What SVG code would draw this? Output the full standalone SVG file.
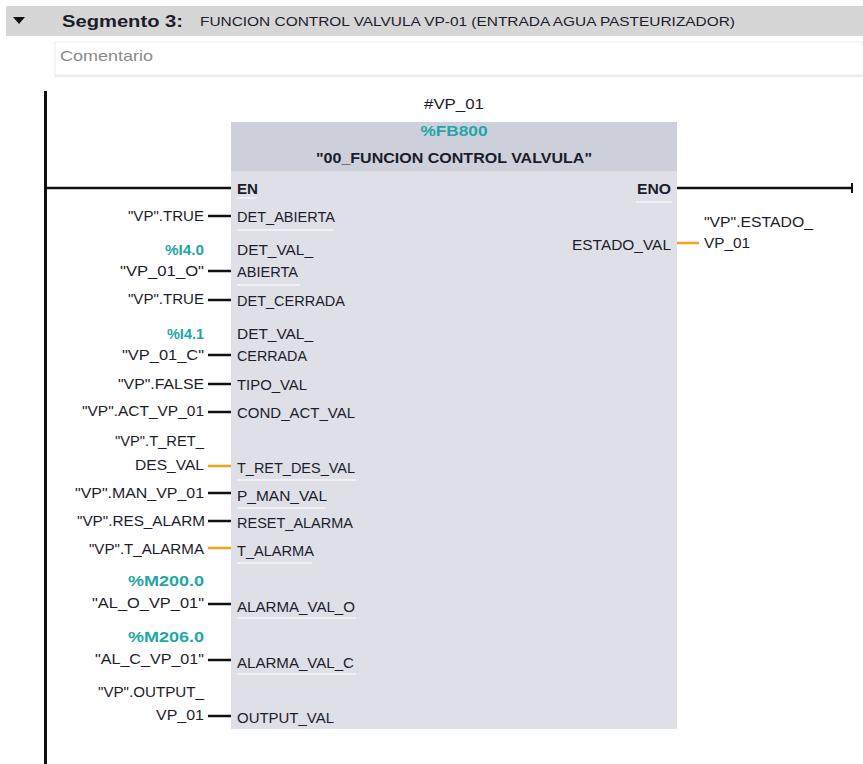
<svg xmlns="http://www.w3.org/2000/svg" width="863" height="764" viewBox="0 0 863 764">
  <style>
    text { font-family: "Liberation Sans", "DejaVu Sans", sans-serif; fill: #1c1c2c; }
    .pin { font-size: 15px; }
    .opnd { font-size: 15px; text-anchor: end; }
    .addr { font-size: 15px; text-anchor: end; fill: #1fa7a7; font-weight: bold; }
    .wire { stroke: #111; stroke-width: 2.5; fill: none; }
    .wire-o { stroke: #f5a31a; stroke-width: 2.5; fill: none; }
    .uline { stroke: #f4f4f8; stroke-width: 1.5; }
  </style>

  <rect width="863" height="764" fill="#ffffff"/>

  <!-- network header -->
  <g id="header">
    <rect x="6" y="6" width="857" height="30" fill="#d6d6d6"/>
    <polygon points="13,17 25,17 19,24" fill="#111"/>
    <text x="62" y="27" font-size="17" font-weight="bold" textLength="121" lengthAdjust="spacingAndGlyphs">Segmento 3:</text>
    <text x="200" y="26" font-size="13.5" textLength="535" lengthAdjust="spacingAndGlyphs">FUNCION CONTROL VALVULA VP-01 (ENTRADA AGUA PASTEURIZADOR)</text>
  </g>

  <g id="comment">
    <rect x="55" y="42" width="808" height="33" fill="#ffffff" stroke="#ececec"/>
    <line x1="55" y1="76" x2="863" y2="76" stroke="#e4e4f4" stroke-width="1.5"/>
    <text x="60" y="61" font-size="15" textLength="93" lengthAdjust="spacingAndGlyphs" style="fill:#8a8a8a">Comentario</text>
  </g>

  <!-- left power rail -->
  <g id="rail">
    <rect x="44" y="91" width="3" height="673" fill="#111"/>
  </g>

  <!-- function block -->
  <g id="fb800">
    <rect x="231" y="122" width="446" height="607" fill="#dfdfe8"/>
    <rect x="231" y="122" width="446" height="49" fill="#cdcfda"/>
    <text x="454" y="109" font-size="15" text-anchor="middle" textLength="60" lengthAdjust="spacingAndGlyphs">#VP_01</text>
    <text x="454" y="136" font-size="15" font-weight="bold" text-anchor="middle" textLength="67" lengthAdjust="spacingAndGlyphs" style="fill:#1fa7a7">%FB800</text>
    <text x="454" y="163" font-size="15" font-weight="bold" text-anchor="middle" textLength="276" lengthAdjust="spacingAndGlyphs">"00_FUNCION CONTROL VALVULA"</text>

    <text class="pin" x="237" y="194" font-weight="bold" textLength="21" lengthAdjust="spacingAndGlyphs">EN</text>
    <text class="pin" x="671" y="194" font-weight="bold" text-anchor="end" textLength="34" lengthAdjust="spacingAndGlyphs">ENO</text>
    <text class="pin" x="237" y="222" textLength="98" lengthAdjust="spacingAndGlyphs">DET_ABIERTA</text>
    <text class="pin" x="237" y="255" textLength="76" lengthAdjust="spacingAndGlyphs">DET_VAL_</text>
    <text class="pin" x="237" y="277" textLength="61" lengthAdjust="spacingAndGlyphs">ABIERTA</text>
    <text class="pin" x="237" y="306" textLength="108" lengthAdjust="spacingAndGlyphs">DET_CERRADA</text>
    <text class="pin" x="237" y="339" textLength="76" lengthAdjust="spacingAndGlyphs">DET_VAL_</text>
    <text class="pin" x="237" y="361" textLength="70" lengthAdjust="spacingAndGlyphs">CERRADA</text>
    <text class="pin" x="237" y="390" textLength="70" lengthAdjust="spacingAndGlyphs">TIPO_VAL</text>
    <text class="pin" x="237" y="418" textLength="118" lengthAdjust="spacingAndGlyphs">COND_ACT_VAL</text>
    <text class="pin" x="237" y="473" textLength="118" lengthAdjust="spacingAndGlyphs">T_RET_DES_VAL</text>
    <text class="pin" x="237" y="501" textLength="90" lengthAdjust="spacingAndGlyphs">P_MAN_VAL</text>
    <text class="pin" x="237" y="528" textLength="116" lengthAdjust="spacingAndGlyphs">RESET_ALARMA</text>
    <text class="pin" x="237" y="556" textLength="77" lengthAdjust="spacingAndGlyphs">T_ALARMA</text>
    <text class="pin" x="237" y="612" textLength="118" lengthAdjust="spacingAndGlyphs">ALARMA_VAL_O</text>
    <text class="pin" x="237" y="668" textLength="117" lengthAdjust="spacingAndGlyphs">ALARMA_VAL_C</text>
    <text class="pin" x="237" y="723" textLength="97" lengthAdjust="spacingAndGlyphs">OUTPUT_VAL</text>
    <text class="pin" x="671" y="250" text-anchor="end" textLength="99" lengthAdjust="spacingAndGlyphs">ESTADO_VAL</text>

    <!-- pin separators -->
    <line class="uline" x1="237" y1="198" x2="256" y2="198"/>
    <line class="uline" x1="237" y1="230" x2="334" y2="230"/>
    <line class="uline" x1="237" y1="285" x2="300" y2="285"/>
    <line class="uline" x1="237" y1="480" x2="356" y2="480"/>
    <line class="uline" x1="237" y1="508" x2="326" y2="508"/>
    <line class="uline" x1="237" y1="563" x2="312" y2="563"/>
    <line class="uline" x1="237" y1="618" x2="356" y2="618"/>
    <line class="uline" x1="237" y1="674" x2="356" y2="674"/>
    <line class="uline" x1="636" y1="202" x2="672" y2="202"/>
  </g>

  <!-- operands -->
  <g id="operands">
    <text class="opnd" x="204" y="221" textLength="76" lengthAdjust="spacingAndGlyphs">"VP".TRUE</text>
    <text class="addr" x="204" y="255" textLength="39" lengthAdjust="spacingAndGlyphs">%I4.0</text>
    <text class="opnd" x="204" y="276" textLength="84" lengthAdjust="spacingAndGlyphs">"VP_01_O"</text>
    <text class="opnd" x="204" y="304" textLength="76" lengthAdjust="spacingAndGlyphs">"VP".TRUE</text>
    <text class="addr" x="204" y="339" textLength="37" lengthAdjust="spacingAndGlyphs">%I4.1</text>
    <text class="opnd" x="204" y="360" textLength="82" lengthAdjust="spacingAndGlyphs">"VP_01_C"</text>
    <text class="opnd" x="204" y="389" textLength="86" lengthAdjust="spacingAndGlyphs">"VP".FALSE</text>
    <text class="opnd" x="204" y="416" textLength="122" lengthAdjust="spacingAndGlyphs">"VP".ACT_VP_01</text>
    <text class="opnd" x="204" y="446" textLength="89" lengthAdjust="spacingAndGlyphs">"VP".T_RET_</text>
    <text class="opnd" x="204" y="470" textLength="69" lengthAdjust="spacingAndGlyphs">DES_VAL</text>
    <text class="opnd" x="204" y="498" textLength="129" lengthAdjust="spacingAndGlyphs">"VP".MAN_VP_01</text>
    <text class="opnd" x="205" y="526" textLength="128" lengthAdjust="spacingAndGlyphs">"VP".RES_ALARM</text>
    <text class="opnd" x="204" y="554" textLength="115" lengthAdjust="spacingAndGlyphs">"VP".T_ALARMA</text>
    <text class="addr" x="204" y="586" textLength="76" lengthAdjust="spacingAndGlyphs">%M200.0</text>
    <text class="opnd" x="204" y="608" textLength="112" lengthAdjust="spacingAndGlyphs">"AL_O_VP_01"</text>
    <text class="addr" x="204" y="642" textLength="76" lengthAdjust="spacingAndGlyphs">%M206.0</text>
    <text class="opnd" x="204" y="664" textLength="109" lengthAdjust="spacingAndGlyphs">"AL_C_VP_01"</text>
    <text class="opnd" x="204" y="697" textLength="106" lengthAdjust="spacingAndGlyphs">"VP".OUTPUT_</text>
    <text class="opnd" x="204" y="720" textLength="48" lengthAdjust="spacingAndGlyphs">VP_01</text>
    <text x="704" y="227" font-size="15" textLength="109" lengthAdjust="spacingAndGlyphs">"VP".ESTADO_</text>
    <text x="704" y="248" font-size="15" textLength="46" lengthAdjust="spacingAndGlyphs">VP_01</text>
  </g>

  <!-- connections -->
  <g id="connectors">
    <line class="wire" x1="45" y1="188" x2="231" y2="188"/>
    <line class="wire" x1="677" y1="188" x2="852" y2="188"/>
    <line x1="852" y1="183" x2="852" y2="193" stroke="#111" stroke-width="2"/>
    <line class="wire" x1="208" y1="216" x2="231" y2="216"/>
    <line class="wire" x1="208" y1="271" x2="231" y2="271"/>
    <line class="wire" x1="208" y1="300" x2="231" y2="300"/>
    <line class="wire" x1="208" y1="355" x2="231" y2="355"/>
    <line class="wire" x1="208" y1="384" x2="231" y2="384"/>
    <line class="wire" x1="208" y1="412" x2="231" y2="412"/>
    <line class="wire-o" x1="208" y1="466" x2="231" y2="466"/>
    <line class="wire" x1="208" y1="493" x2="231" y2="493"/>
    <line class="wire" x1="208" y1="521" x2="231" y2="521"/>
    <line class="wire-o" x1="208" y1="548" x2="231" y2="548"/>
    <line class="wire" x1="208" y1="604" x2="231" y2="604"/>
    <line class="wire" x1="208" y1="660" x2="231" y2="660"/>
    <line class="wire" x1="208" y1="716" x2="231" y2="716"/>
    <line class="wire-o" x1="677" y1="243" x2="699" y2="243"/>
  </g>
</svg>
